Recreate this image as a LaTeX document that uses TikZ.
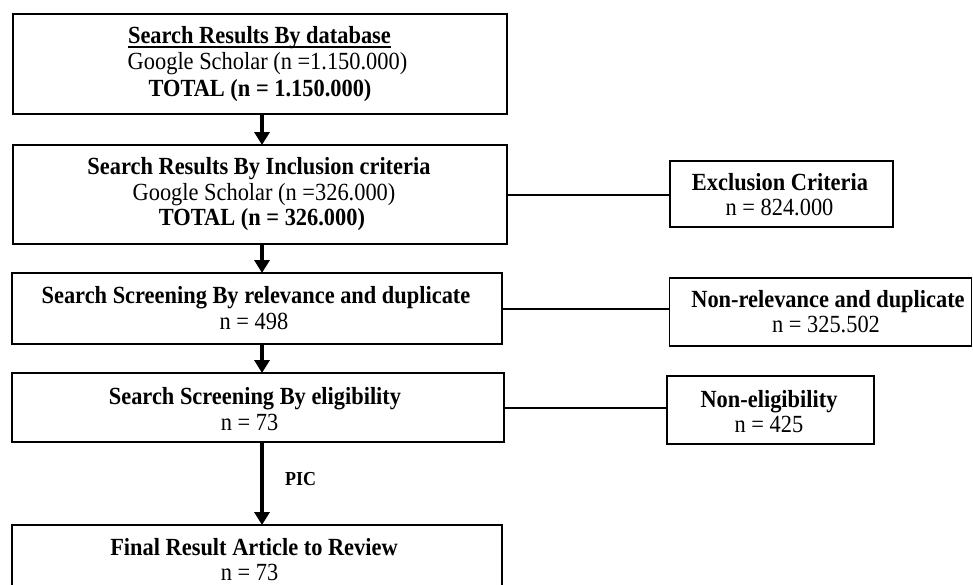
\documentclass[tikz,border=0pt]{standalone}
\usepackage{fontspec}
\usepackage{graphicx}
\setmainfont{Liberation Serif}
\usetikzlibrary{arrows.meta}
\newcommand\vstretch[1]{\scalebox{1}[1.1]{#1}}
\tikzset{
  box/.style={draw, line width=1.8pt, inner sep=0pt, outer sep=0pt, rectangle},
  txt/.style={inner sep=0pt, anchor=base, font=\fontsize{22.4}{27}\selectfont},
  btxt/.style={txt, font=\fontsize{22.4}{27}\selectfont\bfseries},
  conn/.style={line width=2pt},
  arr/.style={line width=3.8pt, -{Triangle[width=15pt,length=13pt]}},
}
\begin{document}
\begin{tikzpicture}[x=1pt,y=-1pt]
\useasboundingbox (0,0) rectangle (973,584);
\clip (0,0) rectangle (973,584);
% main boxes
\node[box, minimum width=494pt, minimum height=100pt] (b1) at (260,64) {};
\node[box, minimum width=494pt, minimum height=99pt] (b2) at (260,194.5) {};
\node[box, minimum width=490pt, minimum height=71pt] (b3) at (257,308.5) {};
\node[box, minimum width=492pt, minimum height=69pt] (b4) at (258,407.5) {};
\node[box, minimum width=490pt, minimum height=95pt] (b5) at (257,572.5) {};
% side boxes
\node[box, minimum width=223pt, minimum height=66pt] (e1) at (781.5,194) {};
\node[box, minimum width=302pt, minimum height=68pt] (e2) at (820.5,312) {};
\node[box, minimum width=207pt, minimum height=68pt] (e3) at (770.5,410) {};
% texts box 1
\node[btxt] (t1a) at (259.5,43) {\vstretch{Search Results By database}};
\draw[line width=1.4pt] ([yshift=-4pt]t1a.base west) -- ([yshift=-4pt]t1a.base east);
\node[txt] (t1b) at (267.5,69.5) {\vstretch{Google Scholar (n =1.150.000)}};
\node[btxt] (t1c) at (260,96.5) {\vstretch{TOTAL (n = 1.150.000)}};
% texts box 2
\node[btxt] (t2a) at (259,174.5) {\vstretch{Search Results By Inclusion criteria}};
\node[txt] (t2b) at (264,200) {\vstretch{Google Scholar (n =326.000)}};
\node[btxt] (t2c) at (262,225.5) {\vstretch{TOTAL (n = 326.000)}};
% texts box 3
\node[btxt] (t3a) at (256,303.5) {\vstretch{Search Screening By relevance and duplicate}};
\node[txt] (t3b) at (254,329) {\vstretch{n = 498}};
% texts box 4
\node[btxt] (t4a) at (255,404) {\vstretch{Search Screening By eligibility}};
\node[txt] (t4b) at (249.5,430) {\vstretch{n = 73}};
% texts box 5
\node[btxt] (t5a) at (254,555) {\vstretch{Final Result Article to Review}};
\node[txt] (t5b) at (249.5,580) {\vstretch{n = 73}};
% side texts
\node[btxt] (s1a) at (780,190) {\vstretch{Exclusion Criteria}};
\node[txt] (s1b) at (779.5,215) {\vstretch{n = 824.000}};
\node[btxt] (s2a) at (828,307) {\vstretch{Non-relevance and duplicate}};
\node[txt] (s2b) at (826,332) {\vstretch{n = 325.502}};
\node[btxt] (s3a) at (769,407) {\vstretch{Non-eligibility}};
\node[txt] (s3b) at (769,432) {\vstretch{n = 425}};
% arrows
\coordinate (ax) at (262,0);
\draw[arr] (b1.south -| ax) -- (b2.north -| ax);
\draw[arr] (b2.south -| ax) -- (b3.north -| ax);
\draw[arr] (b3.south -| ax) -- (b4.north -| ax);
\draw[arr] (b4.south -| ax) -- (b5.north -| ax);
\node[inner sep=0pt, anchor=base west, font=\fontsize{18}{20}\selectfont\bfseries] (pic) at (285,485) {\vstretch{PIC}};
% side connectors
\draw[conn] (b2.east) -- (b2.east -| e1.west);
\draw[conn] (b3.east) -- (b3.east -| e2.west);
\draw[conn] (b4.east) -- (b4.east -| e3.west);
\end{tikzpicture}
\end{document}
